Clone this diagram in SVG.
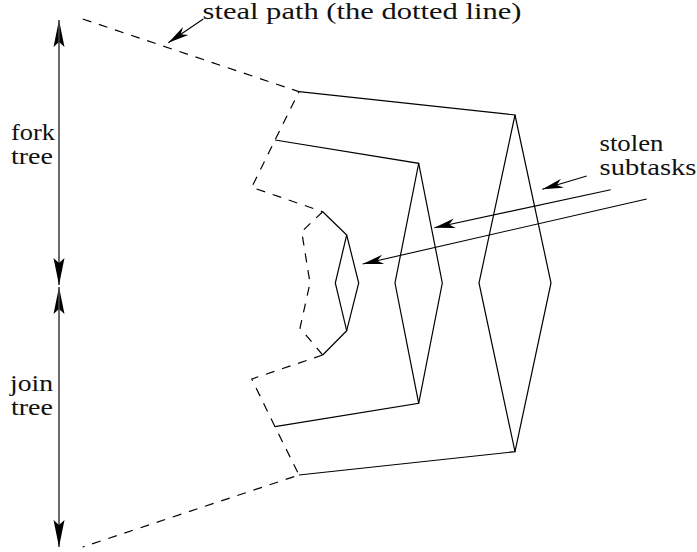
<svg xmlns="http://www.w3.org/2000/svg" width="697" height="552" viewBox="0 0 697 552">
  <style>
    .solid { fill: none; stroke: #000; stroke-width: 1.2; stroke-linejoin: miter; }
    .dash { fill: none; stroke: #000; stroke-width: 1.2; stroke-dasharray: 9 8; }
    .arr { fill: none; stroke: #000; stroke-width: 1.1; marker-end: url(#head); }
    .axis { fill: none; stroke: #555; stroke-width: 1.3; }
  </style>
  <defs>
    <marker id="head" markerUnits="userSpaceOnUse" markerWidth="24" markerHeight="12" refX="0" refY="0" viewBox="-22 -6 24 12" orient="auto" overflow="visible">
      <path d="M0,0 L-21,-4.8 L-15,0 L-21,4.8 Z" fill="#000"/>
    </marker>
    <marker id="bighead" markerUnits="userSpaceOnUse" markerWidth="30" markerHeight="14" refX="0" refY="0" viewBox="-28 -7 30 14" orient="auto" overflow="visible">
      <path d="M0,0 L-27,-5.5 L-22,0 L-27,5.5 Z" fill="#000"/>
    </marker>
  </defs>

  <g id="outer-tree">
    <polyline class="solid" points="299,91.7 515,115 479,283 515,451.7 299,475"/>
    <polyline class="solid" points="515,115 551,283 515,451.7"/>
  </g>
  <g id="middle-tree">
    <polyline class="solid" points="275,140 418.7,163.3 395,283 418.7,403.3 275,426.7"/>
    <polyline class="solid" points="418.7,163.3 442.3,283 418.7,403.3"/>
  </g>
  <g id="inner-tree">
    <polyline class="solid" points="322.7,211.7 346.7,235 335.3,283 346.7,330.7 322.7,355"/>
    <polyline class="solid" points="346.7,235 358.7,283 346.7,330.7"/>
  </g>

  <g id="steal-path">
    <polyline class="dash" points="82.7,19 299,91.7 275,140 251.7,187.3 322.7,211.7"/>
    <polyline class="dash" points="322.7,211.7 301.7,231.7 310,283 300,328 322.7,355"/>
    <polyline class="dash" points="322.7,355 251.7,379 275,426.7 299,475 82.7,547"/>
  </g>

  <g id="connectors">
    <line class="arr" x1="203.3" y1="19" x2="168.3" y2="42.7"/>
    <line class="arr" x1="586.7" y1="176" x2="542.3" y2="189.3"/>
    <line class="arr" x1="610.7" y1="189.7" x2="434.3" y2="227.7"/>
    <line class="arr" x1="646.7" y1="199" x2="362.7" y2="264"/>
    <line class="axis" x1="59" y1="285" x2="59" y2="20" marker-end="url(#bighead)"/>
    <line class="axis" x1="59" y1="20" x2="59" y2="285" marker-end="url(#bighead)"/>
    <line class="axis" x1="59" y1="547" x2="59" y2="287" marker-end="url(#bighead)"/>
    <line class="axis" x1="59" y1="287" x2="59" y2="547" marker-end="url(#bighead)"/>
  </g>

  <g id="labels">
    <text x="202.5" y="19" font-family="Liberation Serif, serif" font-size="23" fill="#111" textLength="319" lengthAdjust="spacingAndGlyphs">steal path (the dotted line)</text>
    <text x="599.5" y="151" font-family="Liberation Serif, serif" font-size="23" fill="#111" textLength="64" lengthAdjust="spacingAndGlyphs">stolen</text>
    <text x="599.5" y="175" font-family="Liberation Serif, serif" font-size="23" fill="#111" textLength="97" lengthAdjust="spacingAndGlyphs">subtasks</text>
    <text x="11" y="140" font-family="Liberation Serif, serif" font-size="23" fill="#111" textLength="44" lengthAdjust="spacingAndGlyphs">fork</text>
    <text x="11" y="163.5" font-family="Liberation Serif, serif" font-size="23" fill="#111" textLength="42" lengthAdjust="spacingAndGlyphs">tree</text>
    <text x="10" y="391" font-family="Liberation Serif, serif" font-size="23" fill="#111" textLength="43" lengthAdjust="spacingAndGlyphs">join</text>
    <text x="11" y="415" font-family="Liberation Serif, serif" font-size="23" fill="#111" textLength="42" lengthAdjust="spacingAndGlyphs">tree</text>
  </g>
</svg>
